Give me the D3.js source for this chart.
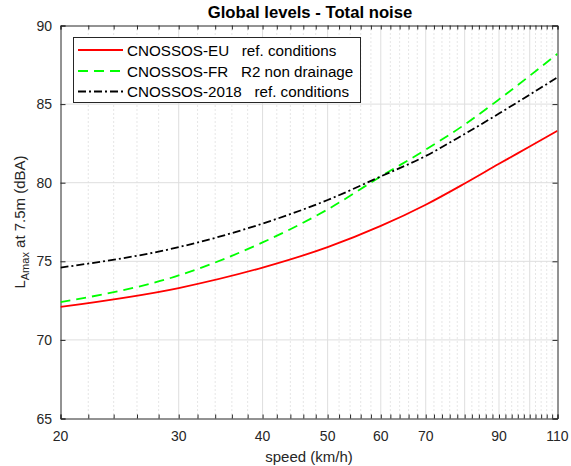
<!DOCTYPE html>
<html><head><meta charset="utf-8">
<script src="https://cdn.jsdelivr.net/npm/d3@7"></script>
<style>
html,body{margin:0;padding:0;background:#fff;}
svg{display:block;font-family:"Liberation Sans",Arial,Helvetica,sans-serif;}
text{white-space:pre;}
</style></head>
<body>
<svg id="chart" width="571" height="466"></svg>
<script>
// ---- data ----
const speeds = [20, 30, 40, 50, 60, 70, 80, 90, 100, 110];
const cnossosEU = [72.1, 73.3, 74.6, 75.9, 77.25, 78.6, 79.95, 81.2, 82.3, 83.3];
const cnossosFR = [72.4, 74.1, 76.2, 78.3, 80.4, 82.1, 83.7, 85.3, 86.8, 88.2];
const cnossos2018 = [74.6, 75.9, 77.4, 78.9, 80.4, 81.7, 83.1, 84.4, 85.6, 86.7];
const xTickValues = [20, 30, 40, 50, 60, 70, 90, 110];
const yTickValues = [65, 70, 75, 80, 85, 90];
const seriesNames = ["CNOSSOS-EU   ref. conditions", "CNOSSOS-FR   R2 non drainage", "CNOSSOS-2018   ref. conditions"];
const titleText = "Global levels - Total noise";
const xLabelText = "speed (km/h)";

// ---- layout ----
const L = 60.5, R = 557.5, T = 25.5, B = 418.5;
const svg = d3.select("#chart");
const x = d3.scaleLog().domain([20, 110]).range([L, R]);
const y = d3.scaleLinear().domain([65, 90]).range([B, T]);
const axisColor = "#262626";

// grid: minor dotted (every 2) and major solid (every 10)
const minorVals = d3.range(22, 110, 2).filter(v => v % 10 !== 0);
const majorVals = d3.range(30, 110, 10);
const g = svg.append("g");
g.selectAll(".mg").data(minorVals).join("line")
  .attr("x1", d => x(d)).attr("x2", d => x(d)).attr("y1", T).attr("y2", B)
  .attr("stroke", "#c0c0c0").attr("stroke-width", 0.8).attr("stroke-dasharray", "1,3");
g.selectAll(".Mg").data(majorVals).join("line")
  .attr("x1", d => x(d)).attr("x2", d => x(d)).attr("y1", T).attr("y2", B)
  .attr("stroke", "#dedede").attr("stroke-width", 1);
g.selectAll(".hg").data(yTickValues.slice(1, -1)).join("line")
  .attr("x1", L).attr("x2", R).attr("y1", d => y(d)).attr("y2", d => y(d))
  .attr("stroke", "#dedede").attr("stroke-width", 1);

// axes (inward ticks) using d3 axes
const allXTicks = d3.range(20, 111, 2);
const bottomAxis = d3.axisBottom(x).tickValues(allXTicks).tickSize(-4).tickFormat("");
const topAxis = d3.axisTop(x).tickValues(allXTicks).tickSize(-4).tickFormat("");
const leftAxis = d3.axisLeft(y).tickValues(yTickValues).tickSize(-5).tickFormat("");
const rightAxis = d3.axisRight(y).tickValues(yTickValues).tickSize(-5).tickFormat("");
function styleAxis(sel){
  sel.selectAll("path").attr("stroke", axisColor).attr("stroke-width", 1);
  sel.selectAll("line").attr("stroke", axisColor).attr("stroke-width", 1);
}
svg.append("g").attr("transform", `translate(0,${B})`).call(bottomAxis).call(styleAxis);
svg.append("g").attr("transform", `translate(0,${T})`).call(topAxis).call(styleAxis);
svg.append("g").attr("transform", `translate(${L},0)`).call(leftAxis).call(styleAxis);
svg.append("g").attr("transform", `translate(${R},0)`).call(rightAxis).call(styleAxis);

// tick labels
svg.append("g").selectAll("text").data(xTickValues).join("text")
  .attr("x", d => x(d)).attr("y", 441).attr("text-anchor", "middle")
  .attr("font-size", "14px").attr("fill", axisColor).text(d => d);
svg.append("g").selectAll("text").data(yTickValues).join("text")
  .attr("x", 52).attr("y", d => y(d) + 5).attr("text-anchor", "end")
  .attr("font-size", "14px").attr("fill", axisColor).text(d => d);

// lines
const styles = [
  {color: "#ff0000", dash: null},
  {color: "#00ff00", dash: "10,6"},
  {color: "#000000", dash: "8,3,2,3"}
];
const allSeries = [cnossosEU, cnossosFR, cnossos2018];
const line = d3.line().x(d => x(d[0])).y(d => y(d[1])).curve(d3.curveMonotoneX);
const clip = svg.append("clipPath").attr("id", "clip").append("rect")
  .attr("x", L).attr("y", T).attr("width", R - L).attr("height", B - T);
allSeries.forEach((vals, i) => {
  svg.append("path").datum(speeds.map((s, j) => [s, vals[j]]))
    .attr("d", line).attr("fill", "none")
    .attr("stroke", styles[i].color).attr("stroke-width", 1.8)
    .attr("stroke-dasharray", styles[i].dash)
    .attr("clip-path", "url(#clip)");
});

// legend
const lg = svg.append("g");
lg.append("rect").attr("x", 73.5).attr("y", 37.5).attr("width", 287).attr("height", 65)
  .attr("fill", "#fff").attr("stroke", axisColor).attr("stroke-width", 1);
const rowsY = [50, 71, 91.5];
seriesNames.forEach((name, i) => {
  lg.append("line").attr("x1", 78).attr("x2", 123).attr("y1", rowsY[i]).attr("y2", rowsY[i])
    .attr("stroke", styles[i].color).attr("stroke-width", 1.8)
    .attr("stroke-dasharray", styles[i].dash);
  lg.append("text").attr("x", 127).attr("y", rowsY[i] + 5.5)
    .attr("font-size", "15.2px").attr("fill", "#000").text(name);
});

// title
svg.append("text").attr("x", (L + R) / 2 + 1).attr("y", 18).attr("text-anchor", "middle")
  .attr("font-size", "16.7px").attr("font-weight", "bold").attr("fill", "#000").text(titleText);

// x label
svg.append("text").attr("x", (L + R) / 2).attr("y", 462).attr("text-anchor", "middle")
  .attr("font-size", "15px").attr("fill", axisColor).text(xLabelText);

// y label
const yl = svg.append("text").attr("transform", `translate(25,${(T + B) / 2}) rotate(-90)`)
  .attr("text-anchor", "middle").attr("font-size", "15px").attr("fill", axisColor);
yl.append("tspan").text("L");
yl.append("tspan").attr("font-size", "11px").attr("dy", 4).text("Amax");
yl.append("tspan").attr("dy", -4).text(" at 7.5m (dBA)");
</script>
</body></html>
